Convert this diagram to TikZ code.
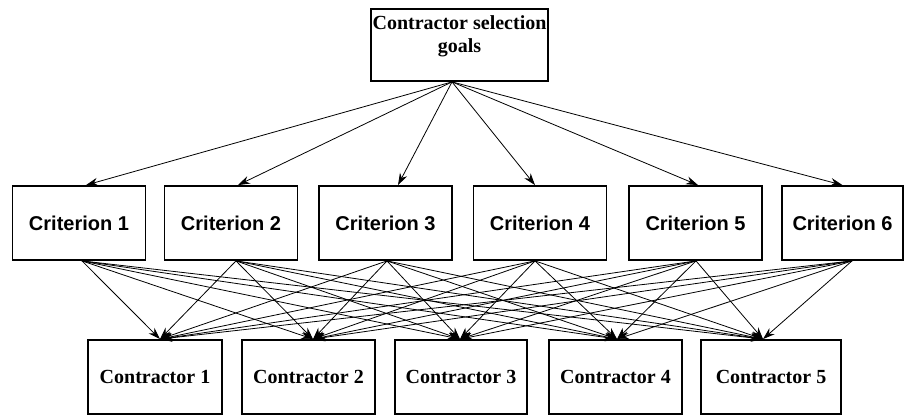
\documentclass[tikz,border=0pt]{standalone}
\usepackage{fontspec}
\setmainfont{Liberation Serif}
\newfontfamily\critfont{Liberation Sans}
\usetikzlibrary{arrows.meta}
\usetikzlibrary{positioning}
\tikzset{block/.style={draw, rectangle, line width=1.8pt, text centered, inner sep=0pt}}
\tikzset{criterion/.style={block, minimum height=74pt, minimum width=133pt, font=\critfont\bfseries\fontsize{20}{23}\selectfont}}
\tikzset{contractor/.style={block, minimum height=74pt, minimum width=133pt, font=\bfseries\fontsize{20}{23}\selectfont}}
\tikzset{connect/.style={draw, line width=0.8pt, -{Stealth[length=12pt,width=8pt]}}}
\tikzset{links/.style={every edge/.style={connect}}}

\begin{document}
\begin{tikzpicture}[x=1pt,y=-1pt]
\useasboundingbox (0,0) rectangle (904,415);

%goal
\node[block, minimum height=72pt, minimum width=177pt, align=center, font=\bfseries\fontsize{20}{23}\selectfont] (goal) at (459.5,45) {Contractor selection\\goals\rule[-21pt]{0pt}{0pt}};
\coordinate (goalout) at ([xshift=-7.5pt]goal.south);

%criteria
\node[criterion] (crit1) at (79,223) {Criterion 1};
\node[criterion] (crit2) at (231,223) {Criterion 2};
\node[criterion] (crit3) at (385.5,223) {Criterion 3};
\node[criterion] (crit4) at (540,223) {Criterion 4};
\node[criterion] (crit5) at (695.5,223) {Criterion 5};
\node[criterion, minimum width=121pt] (crit6) at (842.5,223) {Criterion 6};

\coordinate (crit1out) at ([xshift=3pt]crit1.south);
\coordinate (crit2out) at ([xshift=5pt]crit2.south);
\coordinate (crit3out) at ([xshift=1.5pt]crit3.south);
\coordinate (crit4out) at ([xshift=-5pt]crit4.south);
\coordinate (crit5out) at ([xshift=0.5pt]crit5.south);
\coordinate (crit6out) at ([xshift=9.5pt]crit6.south);

%contractors
\node[contractor, minimum width=134pt] (con1) at (155,377) {Contractor 1};
\node[contractor] (con2) at (308.5,377) {Contractor 2};
\node[contractor, minimum width=132pt] (con3) at (461,377) {Contractor 3};
\node[contractor] (con4) at (615.5,377) {Contractor 4};
\node[contractor, minimum width=140pt] (con5) at (771,377) {Contractor 5};

\coordinate (con1in) at ([xshift=5pt]con1.north);
\coordinate (con2in) at ([xshift=4.5pt]con2.north);
\coordinate (con3in) at ([xshift=-1pt]con3.north);
\coordinate (con4in) at ([xshift=1.5pt]con4.north);
\coordinate (con5in) at ([xshift=-8pt]con5.north);

%goal to criteria
\path[links] (goalout) edge ([xshift=7pt]crit1.north)
  edge ([xshift=7pt]crit2.north)
  edge ([xshift=12.5pt]crit3.north)
  edge ([xshift=-5pt]crit4.north)
  edge ([xshift=2.5pt]crit5.north)
  edge (crit6.north);

%criteria to contractors
\path[links] (crit1out) edge (con1in) edge (con2in) edge (con3in) edge (con4in) edge (con5in);
\path[links] (crit2out) edge (con1in) edge (con2in) edge (con3in) edge (con4in) edge (con5in);
\path[links] (crit3out) edge (con1in) edge (con2in) edge (con3in) edge (con4in) edge (con5in);
\path[links] (crit4out) edge (con1in) edge (con2in) edge (con3in) edge (con4in) edge (con5in);
\path[links] (crit5out) edge (con1in) edge (con2in) edge (con3in) edge (con4in) edge (con5in);
\path[links] (crit6out) edge (con1in) edge (con2in) edge (con3in) edge (con4in) edge (con5in);

\end{tikzpicture}
\end{document}
